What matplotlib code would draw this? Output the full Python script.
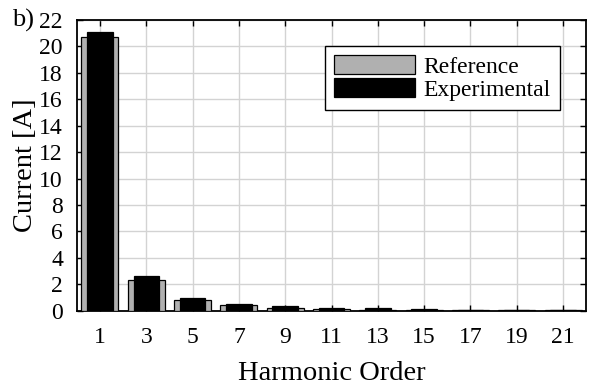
import matplotlib
matplotlib.use("Agg")
import matplotlib.pyplot as plt
import numpy as np

harmonics = [1, 3, 5, 7, 9, 11, 13, 15, 17, 19, 21]
reference = [20.75, 2.35, 0.82, 0.42, 0.22, 0.13, 0.08, 0.05, 0.03, 0.03, 0.03]
experimental = [21.1, 2.6, 0.95, 0.52, 0.33, 0.22, 0.18, 0.1, 0.06, 0.07, 0.08]
yticks = list(range(0, 23, 2))

plt.rcParams['font.family'] = ['Liberation Serif', 'DejaVu Serif']

fig = plt.figure(figsize=(6, 3.85), dpi=100)
ax = fig.add_axes([0.128, 0.193, 0.849, 0.755])

ax.bar(harmonics, reference, width=1.6, color='#b0b0b0', edgecolor='black',
       linewidth=0.9, label='Reference', zorder=3)
ax.bar(harmonics, experimental, width=1.1, color='black', edgecolor='black',
       linewidth=0.9, label='Experimental', zorder=4)

ax.set_xlim(0.0, 22.0)
ax.set_ylim(0, 22)
ax.set_xticks(harmonics)
ax.set_yticks(yticks)
ax.tick_params(direction='in', top=True, right=True, labelsize=17, length=4,
               width=1)
ax.tick_params(axis='x', pad=12)
ax.tick_params(axis='y', pad=10)
ax.grid(True, color='#d3d3d3', linewidth=1, zorder=0)
ax.set_axisbelow(True)
for s in ax.spines.values():
    s.set_linewidth(1.3)

ax.set_xlabel('Harmonic Order', fontsize=20.5, labelpad=9)
ax.set_ylabel('Current [A]', fontsize=20.5, labelpad=1)

fig.text(0.02, 0.948, 'b)', fontsize=19, va='center', ha='left')

leg = ax.legend(loc='upper right', bbox_to_anchor=(0.949, 0.911), fontsize=17,
                handlelength=3.43, handleheight=0.85, fancybox=False,
                framealpha=1, edgecolor='black', borderpad=0.4,
                labelspacing=0.0, handletextpad=0.35, borderaxespad=0)
leg.get_frame().set_linewidth(1.0)

fig.savefig('out.png', dpi=100)
